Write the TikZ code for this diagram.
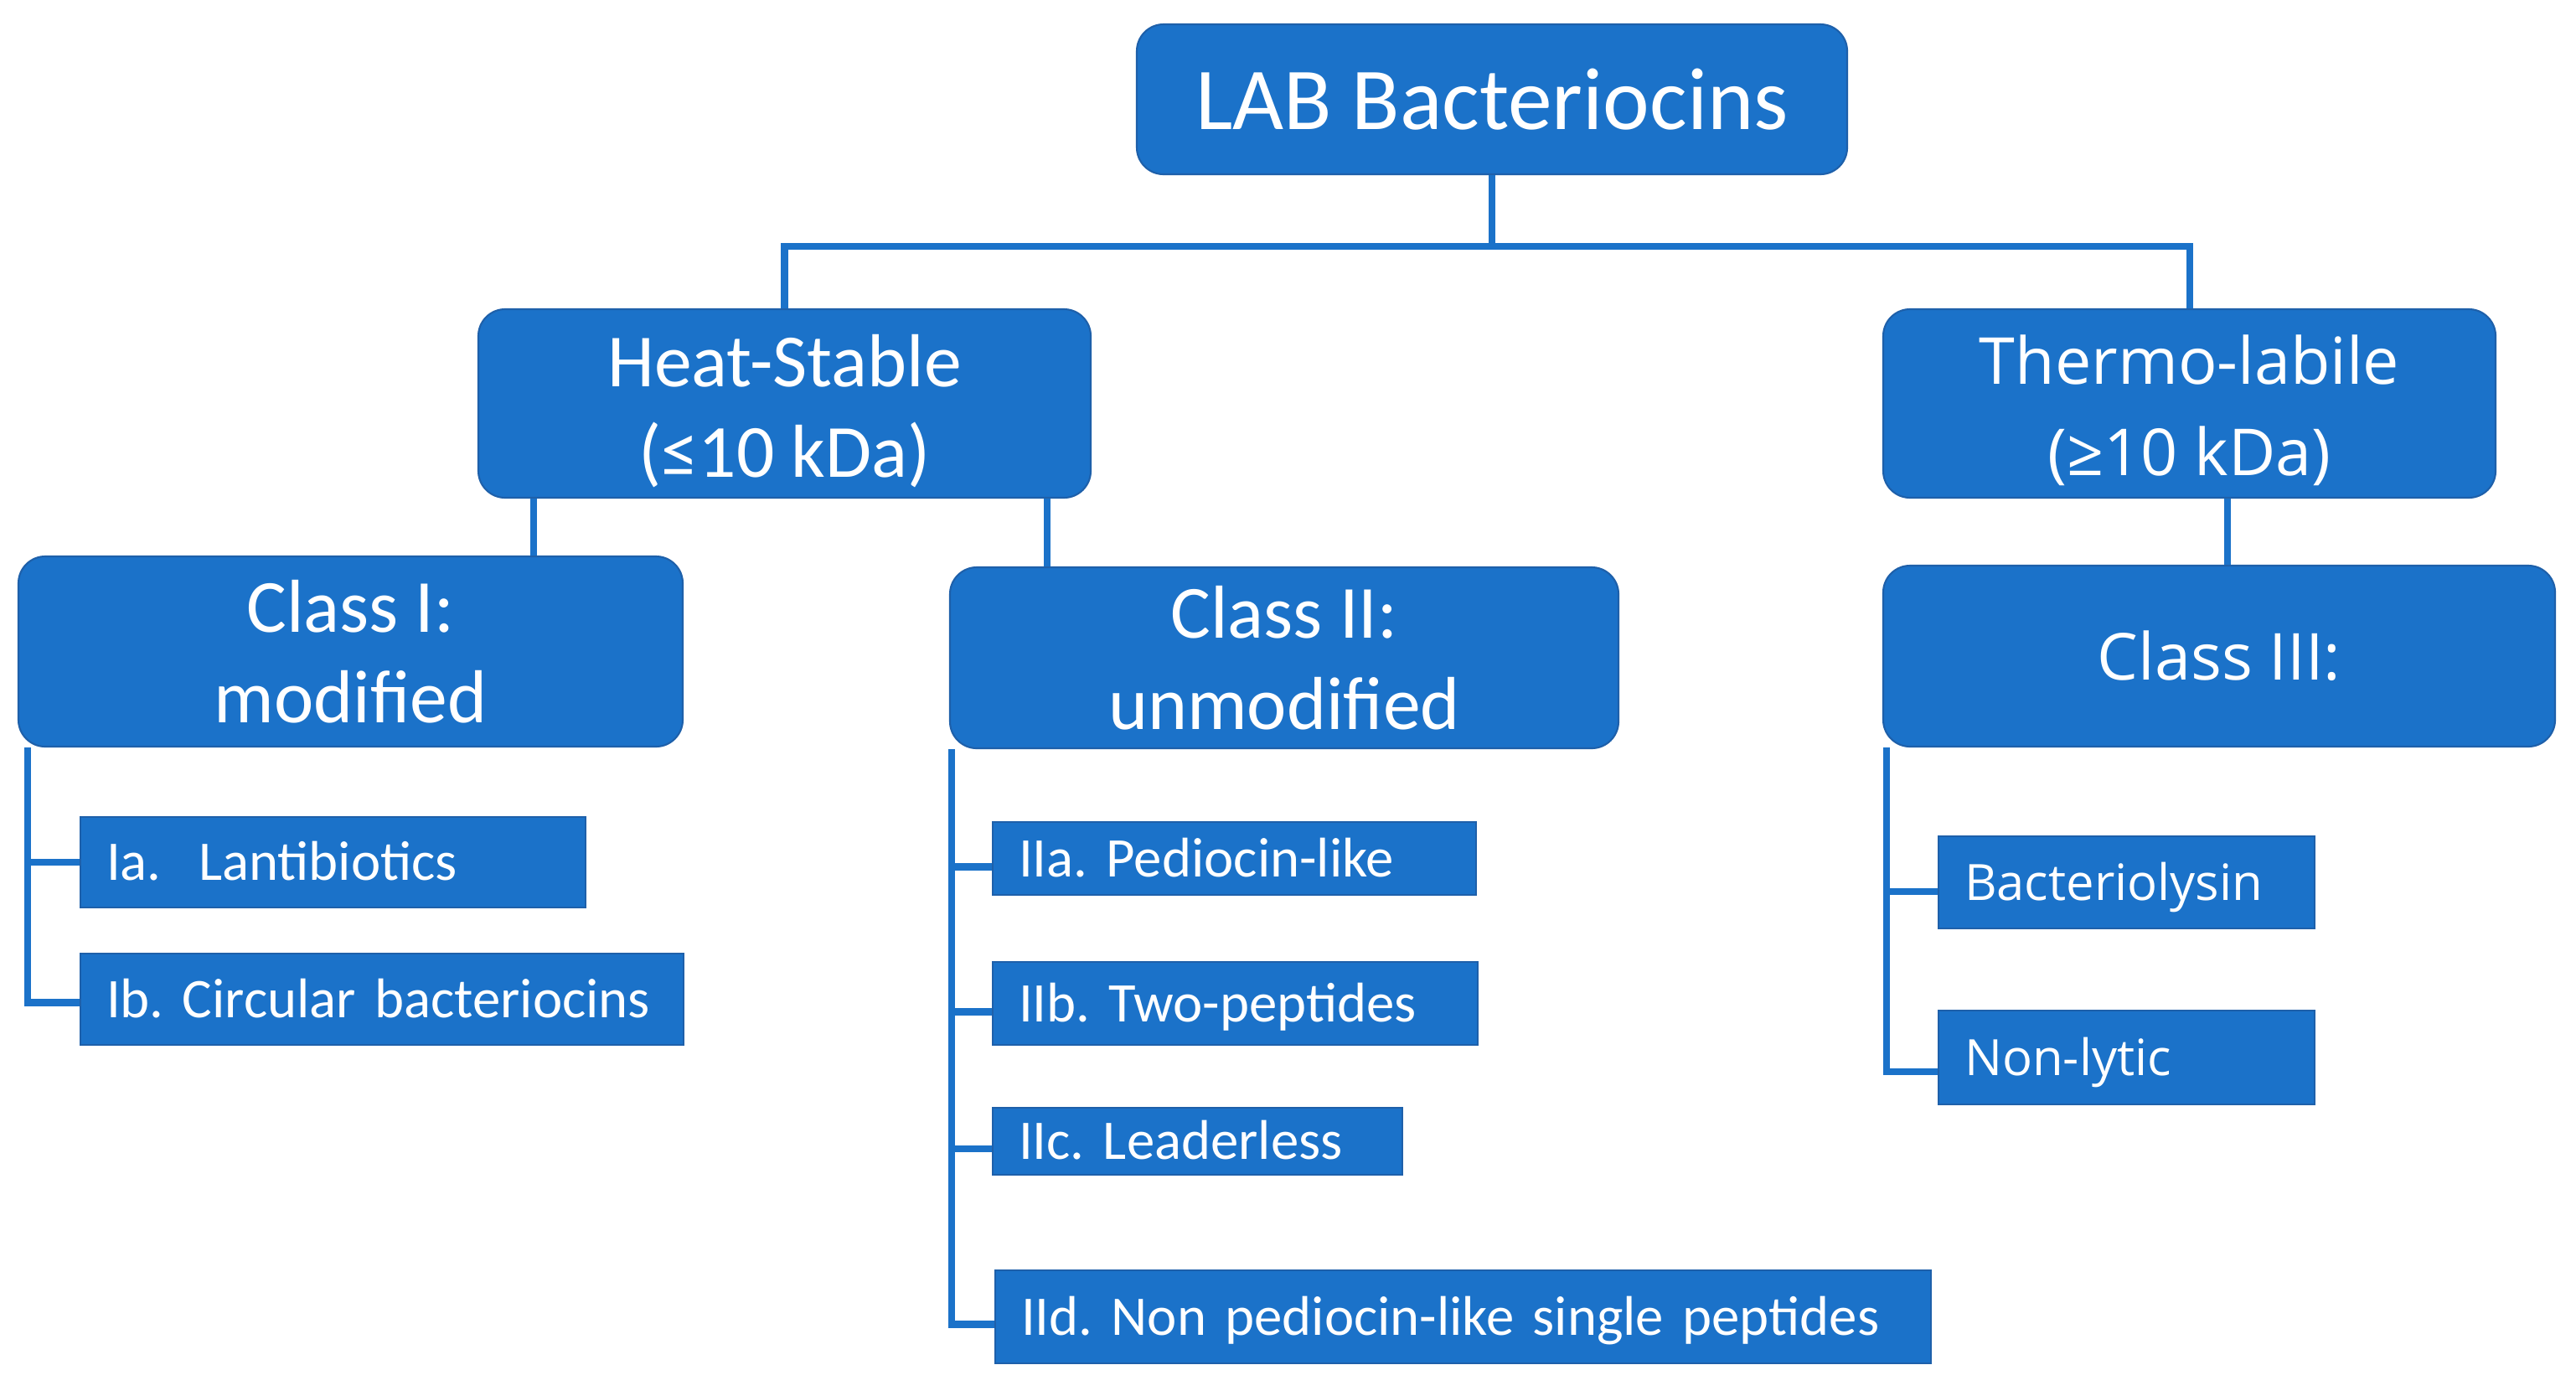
\documentclass[tikz,border=0pt]{standalone}
\usepackage{fontspec}
\setmainfont{Carlito}
\newfontfamily\osans{Open Sans}
\usetikzlibrary{calc}
\frenchspacing
\definecolor{boxblue}{RGB}{27,114,201}
\definecolor{edgeblue}{RGB}{30,96,170}
\newcommand{\toplift}[1]{\rule{0pt}{#1}}
\tikzset{
  bigbox/.style={fill=boxblue, draw=edgeblue, line width=0.6pt, rounded corners=0.32cm,
    text=white, align=center, inner sep=0pt},
  smallbox/.style={fill=boxblue, draw=edgeblue, line width=0.6pt, text=white,
    align=left, inner xsep=0.31cm, inner ysep=0pt, text depth=0pt},
  conn/.style={draw=boxblue, line width=2.3pt},
  bigfont/.style={font=\fontsize{25.5}{30.9}\selectfont},
  osfont/.style={font=\osans\fontsize{22}{30.9}\selectfont},
  smallfont/.style={font=\fontsize{19}{23}\selectfont, text height=12.3pt},
  ossmall/.style={font=\osans\fontsize{17}{21}\selectfont, text height=12.2pt}
}
\begin{document}
\begin{tikzpicture}[x=1cm,y=-1cm]
\useasboundingbox[fill=white] (0,0) rectangle (30.75,16.65);

% top tree
\coordinate (bus) at (17.81,2.94);

% main boxes
\node[bigbox, minimum width=8.48cm, minimum height=1.79cm, font=\fontsize{30}{36}\selectfont]
  (top) at (17.81,1.185) {LAB Bacteriocins};
\node[bigbox, bigfont, minimum width=7.31cm, minimum height=2.25cm]
  (heat) at (9.365,4.815) {\toplift{22.8pt}Heat-Stable\\(≤10 kDa)};
\node[bigbox, osfont, minimum width=7.31cm, minimum height=2.25cm]
  (thermo) at (26.135,4.815) {\toplift{21.5pt}Thermo-labile\\(≥10 kDa)};
\node[bigbox, bigfont, minimum width=7.93cm, minimum height=2.27cm]
  (c1) at (4.185,7.775) {Class I:\\modified};
\node[bigbox, bigfont, minimum width=7.98cm, minimum height=2.16cm]
  (c2) at (15.33,7.85) {Class II:\\unmodified};
\node[bigbox, osfont, minimum width=8.02cm, minimum height=2.16cm]
  (c3) at (26.49,7.83) {Class III:};

% sub boxes
\node[smallbox, smallfont, text width=6.03cm-0.62cm, minimum height=1.08cm]
  (ia) at (3.975,10.29) {Ia.\ \ Lantibiotics};
\node[smallbox, smallfont, text width=7.20cm-0.62cm, minimum height=1.09cm]
  (ib) at (4.56,11.925) {Ib. Circular bacteriocins};
\node[smallbox, smallfont, text width=5.77cm-0.62cm, minimum height=0.87cm]
  (iia) at (14.735,10.245) {IIa. Pediocin-like};
\node[smallbox, smallfont, text width=5.79cm-0.62cm, minimum height=0.99cm]
  (iib) at (14.745,11.975) {IIb. Two-peptides};
\node[smallbox, smallfont, text width=4.89cm-0.62cm, minimum height=0.80cm]
  (iic) at (14.295,13.62) {IIc. Leaderless};
\node[smallbox, smallfont, text width=11.17cm-0.62cm, minimum height=1.11cm]
  (iid) at (17.465,15.715) {IId. Non pediocin-like single peptides};
\node[smallbox, ossmall, text width=4.49cm-0.62cm, minimum height=1.10cm]
  (bact) at (25.385,10.53) {Bacteriolysin};
\node[smallbox, ossmall, text width=4.49cm-0.62cm, minimum height=1.12cm]
  (nonl) at (25.385,12.62) {Non-lytic};

% connectors
\draw[conn] (top.south) -- (bus);
\draw[conn] (heat.north) |- (bus) -| (thermo.north);

\draw[conn] ($(heat.south west)!0.092!(heat.south east)$) coordinate (h1) -- (h1 |- c1.north);
\draw[conn] ($(heat.south west)!0.927!(heat.south east)$) coordinate (h2) -- (h2 |- c2.north);
\draw[conn] ($(thermo.south west)!0.562!(thermo.south east)$) coordinate (t1) -- (t1 |- c3.north);

% brackets
\coordinate (brI) at ([xshift=0.12cm]c1.south west);
\draw[conn] (brI) |- (ia.west);
\draw[conn] (brI) |- ([yshift=-0.04cm]ib.west);

\coordinate (brII) at ([xshift=0.03cm]c2.south west);
\draw[conn] (brII) |- ([yshift=-0.1cm]iia.west);
\draw[conn] (brII) |- ([yshift=-0.1cm]iib.west);
\draw[conn] (brII) |- ([yshift=-0.09cm]iic.west);
\draw[conn] (brII) |- ([yshift=-0.09cm]iid.west);

\coordinate (brIII) at ([xshift=0.05cm]c3.south west);
\draw[conn] (brIII) |- ([yshift=-0.11cm]bact.west);
\draw[conn] (brIII) |- ([yshift=-0.17cm]nonl.west);
\end{tikzpicture}
\end{document}
